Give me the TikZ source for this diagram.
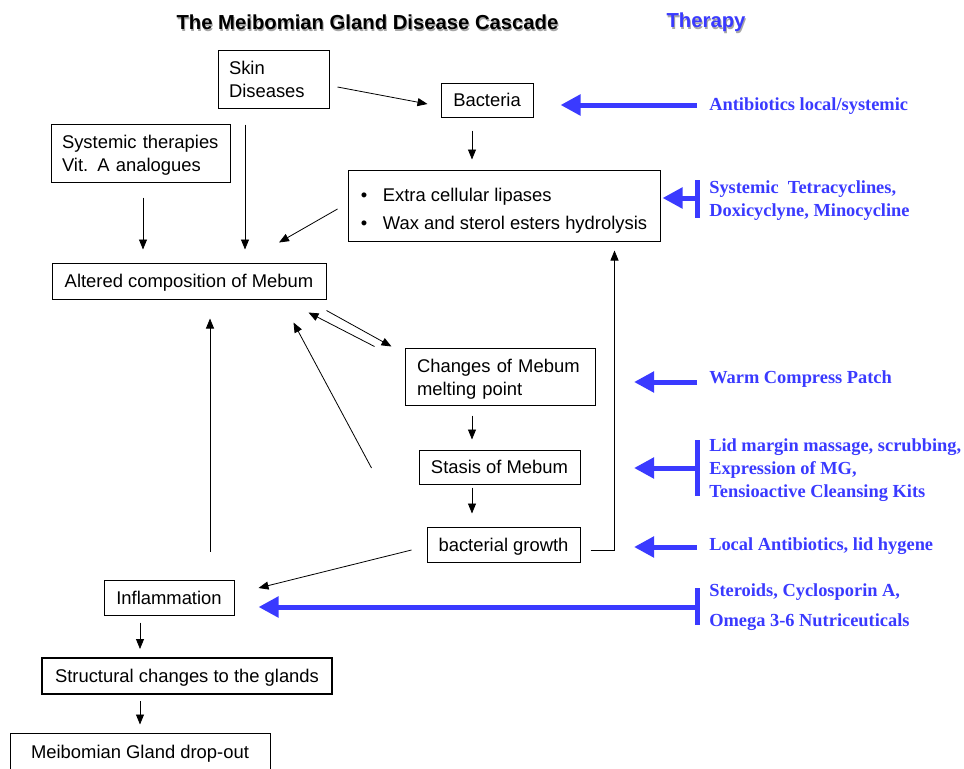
\documentclass[tikz,border=0pt]{standalone}
\usepackage{fontspec}
\setmainfont{Liberation Sans}
\newfontfamily\therapyfont{Liberation Serif}
\usetikzlibrary{arrows.meta,calc}
\definecolor{therapyblue}{RGB}{58,58,255}
\begin{document}
\begin{tikzpicture}[x=0.75pt,y=-0.75pt,
  bodyfont/.style={font=\fontsize{13.8}{17.25}\selectfont},
  box/.style={draw,line width=0.75pt,inner sep=0pt,align=center,bodyfont},
  sbox/.style={box,text depth=0pt},
  lbox/.style={box,align=left,inner xsep=8.25pt},
  arr/.style={line width=0.6pt,-{Triangle[length=7.5pt,width=6pt]}},
  tarr/.style={therapyblue,line width=3.75pt,-{Triangle[length=15pt,width=15pt]}},
  tbar/.style={therapyblue,line width=3.75pt},
  ttext/.style={anchor=west,align=left,inner sep=0pt,text=therapyblue,
    font=\therapyfont\bfseries\fontsize{13.8}{17.25}\selectfont},
  titlefont/.style={inner sep=0pt,font=\bfseries\fontsize{15.2}{18}\selectfont}]
\useasboundingbox (0,0) rectangle (964,768);

% headings with drop shadow
\node[titlefont,text=black!35] at (368.5,24) {The Meibomian Gland Disease Cascade};
\node[titlefont] (title) at (367.5,22.5) {The Meibomian Gland Disease Cascade};
\node[titlefont,text=black!35] at (707,24) {Therapy};
\node[titlefont,text=therapyblue] (therapy) at (706,22.5) {Therapy};

% cascade boxes
\node[lbox,text width=66.75pt,minimum height=43.5pt] (skin) at (273.5,79) {Skin\\Diseases};
\node[sbox,minimum width=69pt,minimum height=25.5pt] (bact) at (487,100) {Bacteria};
\node[lbox,text width=117.75pt,minimum height=43.5pt] (sys) at (140.5,153) {\rule{0pt}{13pt}Systemic therapies\\Vit. A analogues};
\node[sbox,align=left,minimum width=234pt,minimum height=53.25pt,
  font=\fontsize{13.8}{21}\selectfont] (lip) at (504,205.5)
  {\rule{0pt}{14.6pt}\makebox[16.5pt][l]{\textbullet}Extra cellular lipases\\
   \makebox[16.5pt][l]{\textbullet}Wax and sterol esters hydrolysis};
\node[sbox,minimum width=205.5pt,minimum height=27pt] (alt) at (189,281) {Altered composition of Mebum};
\node[lbox,inner xsep=9pt,text width=124.5pt,minimum height=42.75pt] (chg) at (500,376.5) {\rule{0pt}{13.75pt}Changes of Mebum\\melting point};
\node[sbox,minimum width=120.75pt,minimum height=25.5pt] (sta) at (499.5,467) {Stasis of Mebum};
\node[sbox,minimum width=114.75pt,minimum height=26.25pt] (bgr) at (503.5,544.5) {bacterial growth};
\node[sbox,minimum width=97.5pt,minimum height=26.25pt] (inf) at (169,597.5) {Inflammation};
\node[sbox,line width=1.5pt,minimum width=217.5pt,minimum height=27pt] (str) at (187,676) {Structural changes to the glands};
\node[sbox,minimum width=195pt,minimum height=27.75pt] (drop) at (140,751.5) {Meibomian Gland drop-out};

% cascade connectors
\draw[arr] ($(skin.east)+(8,8)$) -- ($(bact.west)+(-13,4)$);
\draw[arr] ($(bact.south)+(-15,13)$) -- ($(lip.north)+(-32,-10)$);
\draw[arr] ($(lip.west)+(-10,3.5)$) -- ($(alt.north)+(90,-20)$);
\draw[arr] ($(skin.south)+(-28.5,16)$) -- ($(alt.north)+(56,-13)$);
\draw[arr] ($(sys.south)+(2.5,15)$) -- ($(alt.north)+(-46,-13)$);
\draw[arr] ($(alt.south east)+(0,11)$) -- ($(chg.north west)+(-13,-1)$);
\draw[arr] ($(chg.north west)+(-30,-1)$) -- ($(alt.south east)+(-18,13)$);
\draw[arr] ($(sta.west)+(-47,1)$) -- ($(alt.south east)+(-33,23)$);
\draw[arr] ($(chg.south)+(-28,10)$) -- ($(sta.north)+(-27.5,-10)$);
\draw[arr] ($(sta.south)+(-27.5,3)$) -- ($(bgr.north)+(-31.5,-13)$);
\draw[arr] ($(bgr.east)+(10,5.5)$) -| ($(lip.south east)+(-46,9)$);
\draw[arr] ($(bgr.west)+(-15,5.5)$) -- ($(inf.east)+(24,-9.5)$);
\draw[arr] ($(inf.north)+(41,-28)$) -- ($(alt.south)+(21,19)$);
\draw[arr] ($(inf.south)+(-29,7)$) -- ($(str.north)+(-47,-8)$);
\draw[arr] ($(str.south)+(-47,6)$) -- ($(drop.north)+(0,-8)$);

% therapy column
\node[ttext] (ab) at (709,106.5) {Antibiotics local/systemic};
\node[ttext] (tet) at (709,201) {Systemic\ \ Tetracyclines,\\Doxicyclyne, Minocycline};
\node[ttext] (warm) at (709,379.5) {Warm Compress Patch};
\node[ttext] (lid) at (709,470) {Lid margin massage, scrubbing,\\Expression of MG,\\Tensioactive Cleansing Kits};
\node[ttext] (loc) at (709,546.5) {Local Antibiotics, lid hygene};
\node[ttext,font=\therapyfont\bfseries\fontsize{13.8}{22.5}\selectfont] (ster) at (709,607.5) {Steroids, Cyclosporin A,\\Omega 3-6 Nutriceuticals};

\coordinate (warmtip) at (634,382);
\coordinate (lidtip) at (634,468);
\coordinate (loctip) at (634,547);

\draw[tarr] ($(ab.west)+(-12,-1.5)$) -- ($(bact.east)+(27,5)$);
\draw[tbar] ($(tet.west)+(-12,-21)$) -- ($(tet.west)+(-12,17)$);
\draw[tarr] ($(tet.west)+(-12,-3)$) -- ($(lip.east)+(2,-7.5)$);
\draw[tarr] ($(warm.west)+(-12,2.5)$) -- (warmtip);
\draw[tbar] ($(lid.west)+(-12,-30)$) -- ($(lid.west)+(-12,26)$);
\draw[tarr] ($(lid.west)+(-12,-2)$) -- (lidtip);
\draw[tarr] ($(loc.west)+(-12,0.5)$) -- (loctip);
\draw[tbar] ($(ster.west)+(-12,-19.5)$) -- ($(ster.west)+(-12,17.5)$);
\draw[tarr] ($(ster.west)+(-12,-0.5)$) -- ($(inf.east)+(24,9.5)$);
\end{tikzpicture}
\end{document}
